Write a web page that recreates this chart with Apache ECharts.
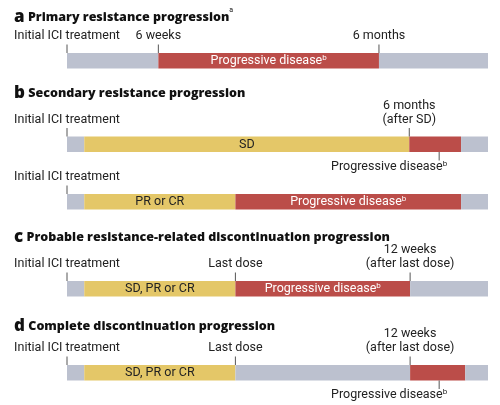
<!DOCTYPE html>
<html><head><meta charset="utf-8">
<script src="https://cdn.jsdelivr.net/npm/echarts@6/dist/echarts.min.js"></script>
<style>html,body{margin:0;padding:0;background:#fff}#c{width:500px;height:405px}</style>
</head><body><div id="c"></div>
<script>
// Panel titles
const panelLetters = ['a', 'b', 'c', 'd'];
const panelTitles = ['Primary resistance progression', 'Secondary resistance progression',
  'Probable resistance-related discontinuation progression', 'Complete discontinuation progression'];
const panelNotes = ['a', '', '', ''];
// Timeline segments: [start, end, kind, label] (schematic time units 0–100)
const segA  = [[0, 21.7, 'none', ''], [21.7, 74.1, 'pd', 'Progressive disease'], [74.1, 100, 'none', '']];
const segB1 = [[0, 4.1, 'none', ''], [4.1, 81.3, 'resp', 'SD'], [81.3, 93.6, 'pd', ''], [93.6, 100, 'none', '']];
const segB2 = [[0, 4.1, 'none', ''], [4.1, 40, 'resp', 'PR or CR'], [40, 93.6, 'pd', 'Progressive disease'], [93.6, 100, 'none', '']];
const segC  = [[0, 4.1, 'none', ''], [4.1, 40, 'resp', 'SD, PR or CR'], [40, 81.5, 'pd', 'Progressive disease'], [81.5, 100, 'none', '']];
const segD  = [[0, 4.1, 'none', ''], [4.1, 40, 'resp', 'SD, PR or CR'], [40, 81.5, 'none', ''], [81.5, 94.6, 'pd', ''], [94.6, 100, 'none', '']];
// Markers: [time, label, side]
const mkA  = [[0, 'Initial ICI treatment', 'up'], [21.7, '6 weeks', 'up'], [74.1, '6 months', 'up']];
const mkB1 = [[0, 'Initial ICI treatment', 'up'], [81.3, '6 months\n(after SD)', 'up'], [88.4, 'Progressive disease', 'down']];
const mkB2 = [[0, 'Initial ICI treatment', 'up']];
const mkC  = [[0, 'Initial ICI treatment', 'up'], [40, 'Last dose', 'up'], [81.5, '12 weeks\n(after last dose)', 'up']];
const mkD  = [[0, 'Initial ICI treatment', 'up'], [40, 'Last dose', 'up'], [81.5, '12 weeks\n(after last dose)', 'up'], [88.4, 'Progressive disease', 'down']];

const rowSegs = [segA, segB1, segB2, segC, segD];
const rowMarks = [mkA, mkB1, mkB2, mkC, mkD];

// layout
const rowTops = [53, 136.5, 194, 281, 365];
const barH = 15.5;
const titleY = [17, 93, 237, 326];
const COLORS = { none: '#bcc1cf', resp: '#e4c768', pd: '#bb4d49' };
const FONT = 'Roboto';
const TFONT = 'Open Sans';
const INK = '#222';
const PD_LABEL = 'Progressive disease';

function richFor(fill) {
  return {
    t: { fontSize: 12.5, lineHeight: 14, fontFamily: FONT, fill: fill },
    s: { fontSize: 8, lineHeight: 14, fontFamily: FONT, fill: fill, verticalAlign: 'top' }
  };
}
function fmt(label) {
  if (label === PD_LABEL) return '{t|' + label + '}{s|b}';
  return label.split('\n').map(l => '{t|' + l + '}').join('\n');
}

function segRender(segs) {
  return function (params, api) {
    const s = segs[params.dataIndex];
    const p0 = api.coord([s[0], 0]);
    const p1 = api.coord([s[1], 0]);
    const h = api.size([0, 1])[1];
    const children = [{
      type: 'rect',
      shape: { x: p0[0], y: p0[1] - h / 2, width: p1[0] - p0[0], height: h },
      style: { fill: COLORS[s[2]] }
    }];
    if (s[3]) {
      const fill = s[2] === 'pd' ? '#fff' : INK;
      children.push({
        type: 'text', x: (p0[0] + p1[0]) / 2, y: p0[1] + 0.5,
        style: { text: fmt(s[3]), rich: richFor(fill), align: 'center', verticalAlign: 'middle', fill: fill }
      });
    }
    return { type: 'group', children: children };
  };
}
function markRender(marks) {
  return function (params, api) {
    const m = marks[params.dataIndex];
    const p = api.coord([m[0], 0]);
    const h = api.size([0, 1])[1];
    const top = p[1] - h / 2, bot = p[1] + h / 2;
    const tick = 8.5;
    if (m[2] === 'up') {
      return { type: 'group', children: [
        { type: 'line', shape: { x1: p[0], y1: top - tick, x2: p[0], y2: top }, style: { stroke: '#555', lineWidth: 1 } },
        { type: 'text', x: p[0], y: top - tick - 1.5,
          style: { text: fmt(m[1]), rich: richFor(INK), align: 'center', verticalAlign: 'bottom', fill: INK } }
      ]};
    }
    return { type: 'group', children: [
      { type: 'line', shape: { x1: p[0], y1: bot, x2: p[0], y2: bot + tick }, style: { stroke: '#555', lineWidth: 1 } },
      { type: 'text', x: p[0] + 8, y: bot + tick - 1,
        style: { text: fmt(m[1]), rich: richFor(INK), align: 'right', verticalAlign: 'top', fill: INK } }
    ]};
  };
}

const grids = [], xAxes = [], yAxes = [], series = [];
rowSegs.forEach((segs, i) => {
  grids.push({ left: 67, right: 12, top: rowTops[i], height: barH });
  xAxes.push({ type: 'value', gridIndex: i, min: 0, max: 100, show: false });
  yAxes.push({ type: 'category', gridIndex: i, data: ['row'], show: false });
  series.push({
    type: 'custom', xAxisIndex: i, yAxisIndex: i, renderItem: segRender(segs),
    encode: { x: [0, 1], y: 2 }, data: segs.map(s => [s[0], s[1], 0]), silent: true
  });
  series.push({
    type: 'custom', xAxisIndex: i, yAxisIndex: i, renderItem: markRender(rowMarks[i]),
    encode: { x: 0, y: 1 }, data: rowMarks[i].map(m => [m[0], 0]), silent: true, z: 3
  });
});

const graphics = panelLetters.map((L, i) => ({
  type: 'text', x: 14, y: titleY[i],
  style: {
    text: '{l|' + L + '} {t|' + panelTitles[i] + '}' + (panelNotes[i] ? '{s|' + panelNotes[i] + '}' : ''),
    verticalAlign: 'middle',
    rich: {
      l: { fontSize: 17, fontWeight: 800, fontFamily: TFONT, fill: '#111', lineHeight: 20 },
      t: { fontSize: 12.5, fontWeight: 800, fontFamily: TFONT, fill: '#111', lineHeight: 20 },
      s: { fontSize: 7, fontFamily: FONT, fill: '#111', verticalAlign: 'top', lineHeight: 20 }
    }
  }
}));

const chart = echarts.init(document.getElementById('c'), null, { renderer: 'canvas' });
chart.setOption({
  animation: false,
  backgroundColor: '#fff',
  grid: grids, xAxis: xAxes, yAxis: yAxes, series: series, graphic: graphics
});
</script></body></html>
